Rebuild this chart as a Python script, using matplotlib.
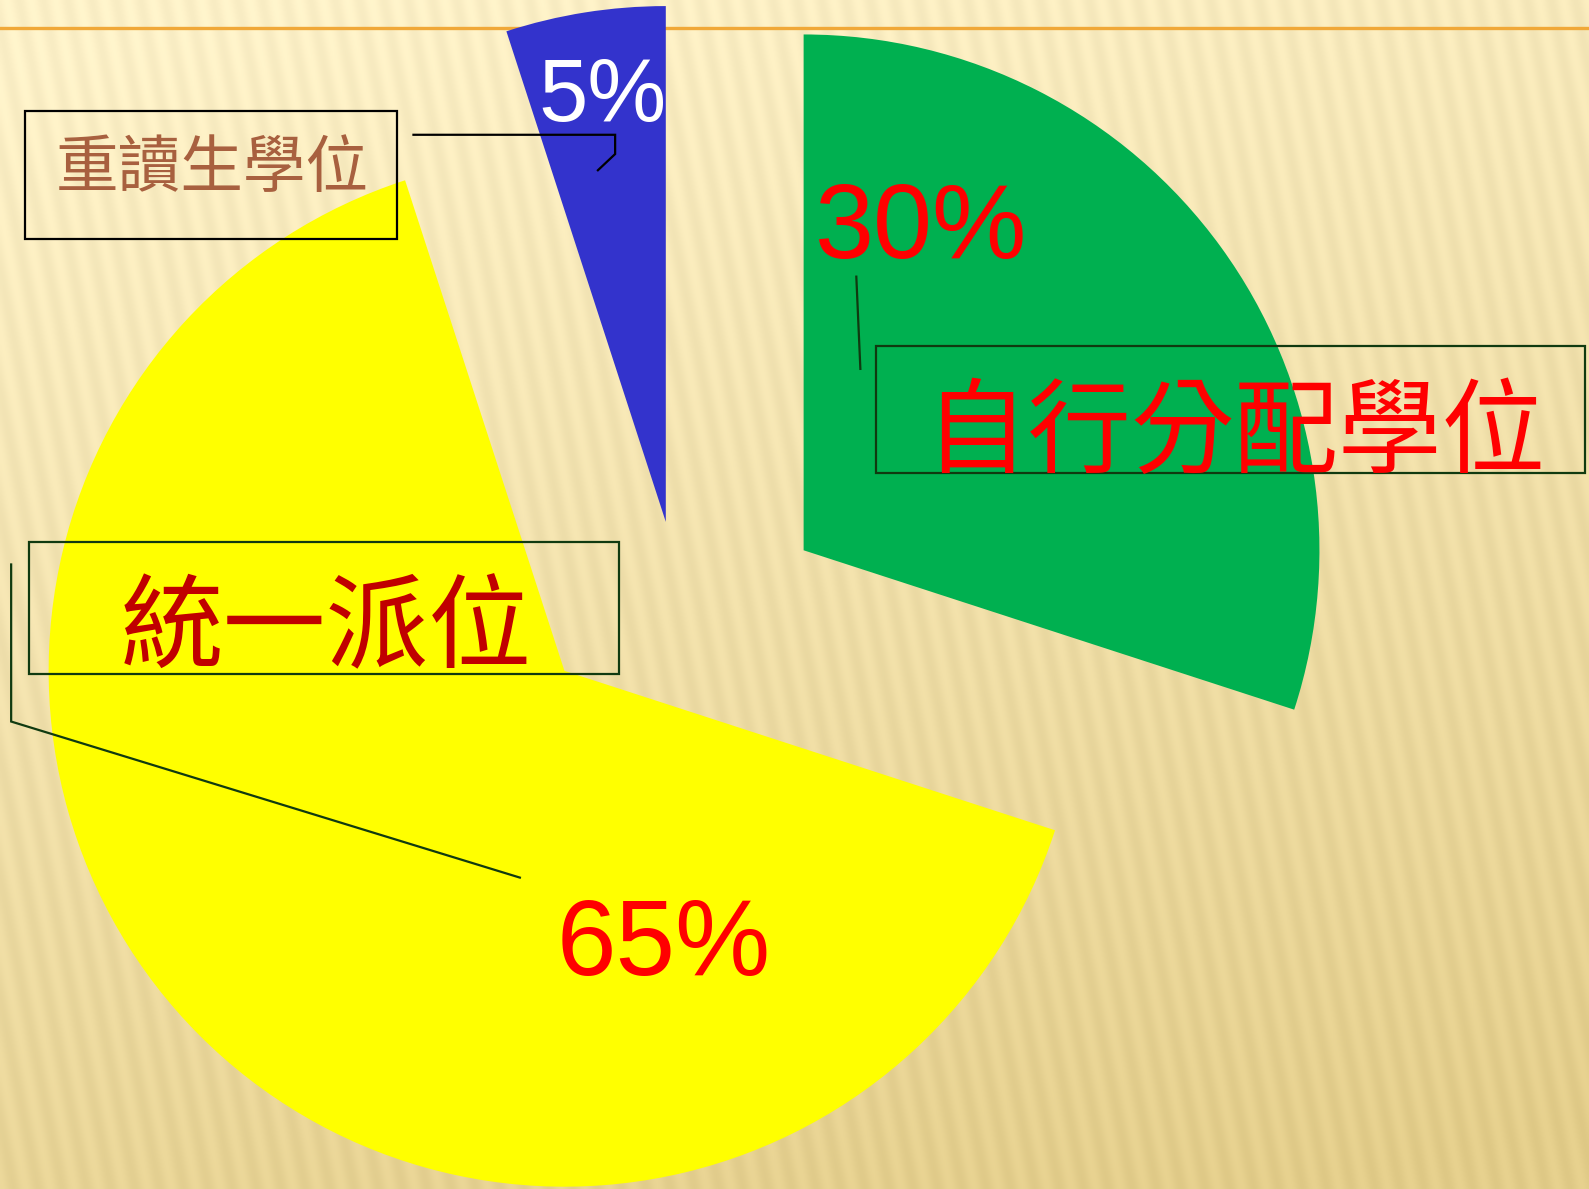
import numpy as np
import matplotlib
matplotlib.use("Agg")
import matplotlib.pyplot as plt
from matplotlib.patches import Wedge, Rectangle

# ---- data ----
categories = ["自行分配學位", "統一派位", "重讀生學位"]
values = [30, 65, 5]
pct_labels = ["30%", "65%", "5%"]

# ---- layout / style (layout units, y downward) ----
W_PX, H_PX = 1589, 1189
W, H = 1568.0, 1568.0 * H_PX / W_PX
S = W_PX / W  # font scale
colors = ["#00b050", "#ffff00", "#3333cc"]
centers = [(793, 543), (557, 662), (657, 515)]
radius = 509
pct_pos = [(909, 255), (655, 962), (594, 119)]
pct_size = [75.5, 76, 63]
pct_color = ["#ff0000", "#ff0000", "#ffffff"]
cat_pos = [(1218, 429), (322, 622), (210, 167)]
cat_size = [73.5, 73, 44.5]
cat_color = ["#ff0000", "#c00000", "#a8603f"]
boxes = [(864, 341, 1564, 467), (29, 535, 611, 665), (25, 110, 392, 236)]
box_color = ["#103a10", "#103a10", "#000000"]
leaders = [
    [(845, 273), (849, 364)],
    [(11, 557), (11, 712), (513, 866)],
    [(408, 133), (607, 133), (607, 152), (590, 168)],
]

fig = plt.figure(figsize=(W_PX / 100, H_PX / 100), dpi=100)
ax = fig.add_axes([0, 0, 1, 1])
ax.set_xlim(0, W)
ax.set_ylim(H, 0)
ax.axis("off")

# background gradient with faint slanted stripes
yy, xx = np.mgrid[0:int(H):2, 0:int(W):2].astype(float)
t = np.clip(0.85 * yy / H + 0.25 * xx / W - 0.05, 0, 1)
c0 = np.array([253, 241, 200]) / 255
c1 = np.array([227, 205, 138]) / 255
img = c0[None, None, :] * (1 - t[..., None]) + c1[None, None, :] * t[..., None]
stripe = 0.018 * np.sin(2 * np.pi * (xx - 0.2 * yy) / 24.0)
img = np.clip(img + stripe[..., None], 0, 1)
ax.imshow(img, extent=[0, W, H, 0], aspect="auto", zorder=0, interpolation="bilinear")

# orange line at top
ax.plot([0, W], [28, 28], color="#f0a838", lw=2.4, zorder=1)

# wedges: start at 90 degrees, clockwise
total = sum(values)
start = 90.0
for v, col, (cx, cy) in zip(values, colors, centers):
    sweep = 360.0 * v / total
    a1, a2 = start - sweep, start
    w = Wedge((cx, cy), radius, -a2, -a1, facecolor=col, edgecolor="none", zorder=2)
    ax.add_patch(w)
    start = a1

# percentage labels
for lab, (x, y), s, c in zip(pct_labels, pct_pos, pct_size, pct_color):
    ax.text(x, y, lab, fontsize=s * S, color=c, ha="center", va="baseline",
            family=["Liberation Sans", "DejaVu Sans"], zorder=5)

# boxes
for (x0, y0, x1, y1), c in zip(boxes, box_color):
    ax.add_patch(Rectangle((x0, y0), x1 - x0, y1 - y0, fill=False,
                           edgecolor=c, lw=1.6, zorder=4))

# category labels
for lab, (x, y), s, c in zip(categories, cat_pos, cat_size, cat_color):
    ax.text(x, y, lab, fontsize=s * S, color=c, ha="center", va="center",
            family=["Noto Sans CJK TC", "DejaVu Sans"], zorder=5)

# leader lines
for pts, c in zip(leaders, box_color):
    xs = [p[0] for p in pts]
    ys = [p[1] for p in pts]
    ax.plot(xs, ys, color=c, lw=1.6, zorder=4, solid_joinstyle="miter")

fig.savefig("out.png", dpi=100)
